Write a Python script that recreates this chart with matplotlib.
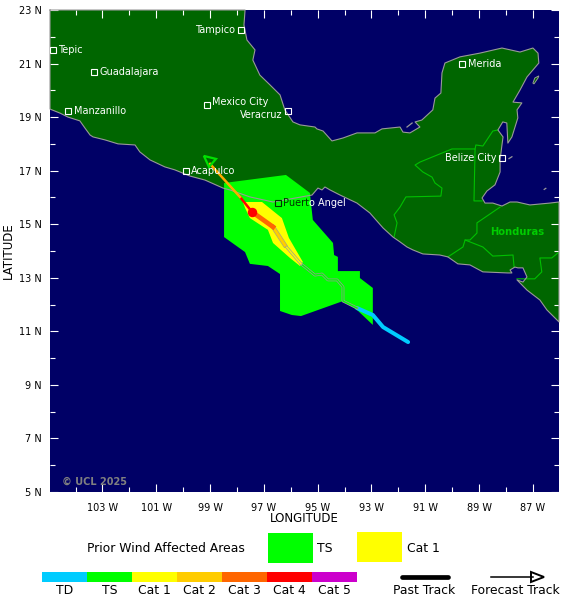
import matplotlib
matplotlib.use('Agg')
import matplotlib.pyplot as plt
import matplotlib.patheffects as pe
from matplotlib.patches import Polygon, Rectangle

# land outline, lon/lat
land_lon = [-104.95,-97.70,-97.74,-97.63,-97.33,-97.41,-97.15,-96.77,-96.40,-96.22,-95.92,-95.66,-95.10,-95.03,-94.80,-94.47,-94.06,-93.54,-92.87,-92.61,-91.94,-91.83,-91.57,-91.20,-91.38,-91.13,-90.72,-90.64,-90.42,-90.38,-90.27,-89.71,-88.97,-88.15,-87.48,-87.00,-86.81,-86.78,-87.22,-87.48,-87.74,-87.41,-87.59,-87.56,-87.78,-87.93,-87.97,-88.12,-88.30,-88.11,-88.15,-88.22,-88.22,-88.41,-88.71,-88.89,-88.78,-88.49,-88.15,-87.85,-87.59,-87.11,-86.37,-86.03,-86.03,-86.48,-86.74,-87.22,-87.59,-87.37,-87.22,-87.37,-87.56,-87.67,-87.85,-87.78,-87.93,-88.86,-89.34,-89.79,-90.16,-90.46,-91.09,-91.46,-91.68,-91.94,-92.20,-92.57,-93.06,-93.54,-94.17,-94.54,-94.73,-94.84,-94.99,-95.21,-96.66,-97.52,-98.26,-98.52,-99.19,-99.75,-100.31,-100.68,-101.23,-101.61,-101.79,-102.42,-102.91,-103.35,-103.46,-103.65,-103.84,-104.28,-104.58,-104.95]
land_lat = [23.0,23.0,22.44,21.88,21.51,21.13,20.57,20.20,19.83,19.27,18.82,18.71,18.63,18.56,18.48,18.11,18.22,18.41,18.41,18.56,18.63,18.44,18.41,18.63,18.82,18.89,19.27,19.71,19.90,20.65,21.02,21.25,21.39,21.58,21.43,21.58,21.39,21.02,20.50,20.01,19.56,19.53,19.27,18.97,18.26,18.03,18.78,18.82,18.52,18.26,17.96,17.40,16.95,16.47,16.24,15.98,15.79,15.79,15.68,15.83,15.83,15.72,15.79,15.83,11.35,11.80,12.17,12.54,12.92,12.84,13.03,13.37,13.37,13.40,13.29,13.18,13.18,13.22,13.48,13.52,13.78,13.85,13.89,14.04,14.15,14.34,14.52,14.86,15.42,15.79,16.09,16.28,16.39,16.28,16.35,16.09,15.83,16.02,16.28,16.35,16.65,16.80,17.03,17.14,17.40,17.70,17.96,18.00,18.15,18.26,18.33,18.59,18.86,19.00,19.15,19.30]

cozumel_lon = [-87.00,-86.93,-86.78,-86.81,-86.96]
cozumel_lat = [20.27,20.46,20.54,20.46,20.24]
islet_lons = [[-91.68,-91.49],[-87.89,-87.78],[-86.58,-86.52]]
islet_lats = [[18.63,18.78],[17.45,17.52],[16.30,16.34]]

# country borders
border_lons = [
    [-92.16,-92.05,-92.16,-91.94,-91.72,-90.42,-90.38,-90.64,-90.75,-91.09,-91.38,-91.20,-90.01,-89.15,-89.19,-88.89],
    [-89.15,-89.12,-88.86,-88.49,-88.30],
    [-88.22,-89.08,-89.08,-89.34,-89.52,-89.60,-90.16],
    [-89.52,-88.86,-88.49,-87.74,-87.70],
    [-87.59,-86.93,-86.67,-86.74,-86.30,-86.03],
]
border_lats = [
    [14.52,15.05,15.35,15.64,16.02,16.05,16.35,16.54,16.76,16.95,17.21,17.32,17.81,17.81,15.87,15.87],
    [17.81,17.96,17.92,18.48,18.52],
    [15.64,15.05,14.67,14.41,14.41,14.15,13.78],
    [14.41,14.15,13.81,13.85,13.40],
    [12.96,12.96,13.22,13.74,13.74,13.96],
]

# wind swaths
ts_lon = [-98.48,-96.18,-95.29,-95.18,-94.43,-94.39,-94.25,-94.25,-93.43,-93.43,-92.95,-92.95,-93.54,-94.06,-95.62,-95.96,-96.40,-96.40,-96.85,-97.52,-97.70,-98.48]
ts_lat = [16.54,16.84,16.17,15.16,14.30,13.85,13.78,13.25,13.25,12.99,12.62,11.24,11.80,12.13,11.57,11.61,11.76,13.14,13.44,13.52,13.96,14.52]
cat1_lon = [-97.78,-97.07,-96.33,-96.07,-95.55,-95.66,-96.03,-96.66,-96.85,-97.52,-97.70]
cat1_lat = [15.83,15.83,15.23,14.49,13.59,13.44,13.74,14.30,14.79,15.23,15.61]

# track pieces
td_lon = [-91.64,-92.57,-92.95,-93.54]
td_lat = [10.60,11.16,11.61,11.87]
ts_track_lon = [-93.54,-94.06,-94.06,-94.28,-94.62,-94.84,-95.10,-95.62]
ts_track_lat = [11.87,12.13,12.66,12.92,12.92,13.14,13.10,13.52]
c1_track_lon = [-95.62,-96.22]
c1_track_lat = [13.52,14.22]
c2_track_lon = [-96.22,-96.66]
c2_track_lat = [14.22,14.90]
c3_track_lon = [-96.66,-97.44]
c3_track_lat = [14.90,15.46]
fc_red_lon = [-97.44,-97.89]
fc_red_lat = [15.46,16.02]
fc_orange_lon = [-97.89,-99.0]
fc_orange_lat = [16.02,17.25]
arrow_lon = [-99.23,-98.78,-99.04]
arrow_lat = [17.55,17.44,17.14]

cities = ['Tampico','Tepic','Guadalajara','Manzanillo','Mexico City','Veracruz','Acapulco','Merida','Belize City']
city_lon = [-97.85,-104.84,-103.32,-104.28,-99.12,-96.10,-99.90,-89.63,-88.15]
city_lat = [22.25,21.51,20.68,19.23,19.45,19.23,16.99,20.98,17.47]
city_side = ['l','r','r','r','r','l','r','r','l']

cats = ['TD','TS','Cat 1','Cat 2','Cat 3','Cat 4','Cat 5']
cat_colors = ['#00ccff','#00ff00','#ffff00','#ffcc00','#ff6600','#ff0000','#cc00cc']

OCEAN = '#000066'
LAND = '#006600'
COAST = '#999999'
BORDER = '#00c000'
LEG_FS = 8.9

W, H = 580, 605
fig = plt.figure(figsize=(W/100, H/100), dpi=100)
ax = fig.add_axes([50/W, 1-492/H, 509/W, 482/H])
ax.set_facecolor(OCEAN)
ax.set_xlim(-104.95, -86.03)
ax.set_ylim(5, 23)

ax.add_patch(Polygon(list(zip(land_lon, land_lat)), fc=LAND, ec='none', zorder=1))
ax.add_patch(Polygon(list(zip(cozumel_lon, cozumel_lat)), fc=LAND, ec=COAST, lw=0.7, zorder=1))
for lo, la in zip(border_lons, border_lats):
    ax.plot(lo, la, color=BORDER, lw=0.8, zorder=2)
ax.add_patch(Polygon(list(zip(ts_lon, ts_lat)), fc='#00ff00', ec='none', zorder=3))
ax.add_patch(Polygon(list(zip(cat1_lon, cat1_lat)), fc='#ffff00', ec='none', zorder=3))
# coast goes over the swaths
ax.plot(land_lon + land_lon[:1], land_lat + land_lat[:1], color=COAST, lw=0.8, zorder=4, clip_on=False)
for lo, la in zip(islet_lons, islet_lats):
    ax.plot(lo, la, color=COAST, lw=0.9, zorder=4)

outline = [pe.withStroke(linewidth=2.0, foreground=COAST)]
ax.plot(td_lon, td_lat, color=cat_colors[0], lw=2.9, zorder=5, solid_capstyle='round')
ax.plot(ts_track_lon, ts_track_lat, color=cat_colors[1], lw=1.0, zorder=5, path_effects=outline)
ax.plot(c1_track_lon, c1_track_lat, color=cat_colors[2], lw=1.0, zorder=5, path_effects=outline)
ax.plot(c2_track_lon, c2_track_lat, color=cat_colors[3], lw=2.2, zorder=5, path_effects=[pe.withStroke(linewidth=3.0, foreground=COAST)])
ax.plot(c3_track_lon, c3_track_lat, color=cat_colors[4], lw=3.4, zorder=5)
ax.plot(fc_red_lon, fc_red_lat, color='#ff0000', lw=1.8, zorder=5)
ax.plot(fc_orange_lon, fc_orange_lat, color='#ffaa00', lw=1.8, zorder=5)
ax.add_patch(Polygon(list(zip(arrow_lon, arrow_lat)), fc='none', ec='#00e000', lw=1.6, zorder=5))
ax.plot(c3_track_lon[-1], c3_track_lat[-1], 'o', color='#ff0000', ms=6.8, mew=0, zorder=6)

for name, lo, la, side in zip(cities, city_lon, city_lat, city_side):
    ax.plot(lo, la, 's', mfc='none', mec='white', ms=4.4, mew=0.8, zorder=7)
    dx = 4 if side == 'r' else -4
    dy = 2 if name == 'Mexico City' else (-3 if name == 'Veracruz' else 0)
    ax.annotate(name, (lo, la), xytext=(dx, dy), textcoords='offset points', color='white', fontsize=7,
                ha='left' if side == 'r' else 'right', va='center', zorder=8)

# Puerto Angel: dark on the green swath, white where it runs onto the sea
pa_lon, pa_lat = -96.48, 15.79
ax.plot(pa_lon, pa_lat, 's', mfc='none', mec='#003300', ms=4.4, mew=0.8, zorder=7)
ax.annotate('Puert', (pa_lon, pa_lat), xytext=(4, 0), textcoords='offset points', color='#003300',
            fontsize=7, ha='left', va='center', zorder=8)
ax.annotate('o Angel', (pa_lon, pa_lat), xytext=(22.6, 0), textcoords='offset points', color='white',
            fontsize=7, ha='left', va='center', zorder=8)

ax.text(-87.57, 14.7, 'Honduras', color='#00cc00', fontsize=7.2, fontweight='bold', ha='center', va='center', zorder=8)
ax.text(-104.5, 5.4, '\u00a9 UCL 2025', color='#808080', fontsize=7, fontweight='bold', ha='left', va='center', zorder=8)

major_lon = list(range(-103, -86, 2))
minor_lon = list(range(-104, -86, 2))
major_lat = list(range(5, 24, 2))
minor_lat = list(range(6, 23, 2))
ax.set_xticks(major_lon)
ax.set_xticklabels(['%d W' % abs(v) for v in major_lon])
ax.set_xticks(minor_lon, minor=True)
ax.set_yticks(major_lat)
ax.set_yticklabels(['%d N' % v for v in major_lat])
ax.set_yticks(minor_lat, minor=True)
ax.tick_params(which='major', direction='in', length=6, width=0.8, color='white',
               top=True, right=True, labelsize=7, pad=6, zorder=10)
ax.tick_params(which='minor', direction='in', length=3.5, width=0.8, color='white', top=True, right=True, zorder=10)
ax.tick_params(axis='x', which='major', pad=8)
for s in ax.spines.values():
    s.set_visible(False)
ax.set_xlabel('LONGITUDE', fontsize=8.5, labelpad=-0.5)
ax.set_ylabel('LATITUDE', fontsize=8.5, labelpad=3)

# legend strip below the map, laid out in image pixels
lg = fig.add_axes([0, 0, 1, 1], zorder=-1)
lg.set_xlim(0, W)
lg.set_ylim(H, 0)
lg.axis('off')

lg.text(87, 548, 'Prior Wind Affected Areas', fontsize=LEG_FS, va='center')
lg.add_patch(Rectangle((268, 533), 45, 30, fc='#00ff00', ec='none'))
lg.text(317, 548, 'TS', fontsize=LEG_FS, va='center')
lg.add_patch(Rectangle((357, 532), 45, 30, fc='#ffff00', ec='none'))
lg.text(407, 548, 'Cat 1', fontsize=LEG_FS, va='center')

for i, (c, col) in enumerate(zip(cats, cat_colors)):
    lg.add_patch(Rectangle((42 + 45*i, 572), 45, 10, fc=col, ec='none'))
    lg.text(64.5 + 45*i, 590, c, fontsize=LEG_FS, ha='center', va='center')

lg.plot([402, 448], [577, 577], color='black', lw=3.4, solid_capstyle='round')
lg.text(424, 590, 'Past Track', fontsize=LEG_FS, ha='center', va='center')
lg.plot([491, 533], [577, 577], color='black', lw=1.1)
lg.add_patch(Polygon([(531, 572), (544, 577), (531, 582)], fc='white', ec='black', lw=1.4))
lg.text(515, 590, 'Forecast Track', fontsize=LEG_FS, ha='center', va='center')

fig.savefig('out.png', dpi=100)
